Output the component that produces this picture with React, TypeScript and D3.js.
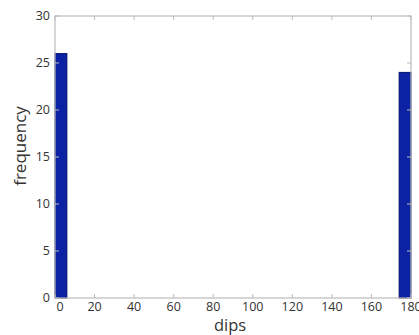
import React from "react";
import * as d3 from "d3";

const binStarts = [0, 174];
const binWidth = 6;
const counts = [26, 24];
const xTicks = [0, 20, 40, 60, 80, 100, 120, 140, 160, 180];
const yTicks = [0, 5, 10, 15, 20, 25, 30];

export default function App() {
  const W = 419, H = 335;
  const m = { left: 55, right: 8, top: 16, bottom: 37 };
  const x = d3.scaleLinear().domain([0, 180]).range([m.left, W - m.right]);
  const y = d3.scaleLinear().domain([0, 30]).range([H - m.bottom, m.top]);
  const font = "'Open Sans', 'DejaVu Sans', sans-serif";
  const axisColor = "#bbbbbb";
  const textColor = "#333";
  return (
    <svg width={W} height={H} style={{ position: "absolute", left: 0, top: 0, background: "#fff" }}>
      <rect x={0} y={0} width={W} height={H} fill="#fff" />
      {binStarts.map((s, i) => (
        <rect key={i} x={x(s)} y={y(counts[i])} width={x(s + binWidth) - x(s)} height={y(0) - y(counts[i])}
          fill="#0c22a4" stroke="#00106e" strokeWidth={1} />
      ))}
      <rect x={x(0)} y={y(30)} width={x(180) - x(0)} height={y(0) - y(30)} fill="none" stroke={axisColor} strokeWidth={1.2} />
      {xTicks.map((t) => (
        <g key={"x" + t}>
          <line x1={x(t)} x2={x(t)} y1={y(0)} y2={y(0) - 4} stroke={axisColor} />
          <line x1={x(t)} x2={x(t)} y1={y(30)} y2={y(30) + 4} stroke={axisColor} />
          <text x={x(t) + (t === 0 ? 5 : 0)} y={y(0) + 13} textAnchor="middle" fontSize={12.5} fontFamily={font} fill={textColor}>{t}</text>
        </g>
      ))}
      {yTicks.map((t) => (
        <g key={"y" + t}>
          <line x1={x(0)} x2={x(0) + 4} y1={y(t)} y2={y(t)} stroke={axisColor} />
          <line x1={x(180)} x2={x(180) - 4} y1={y(t)} y2={y(t)} stroke={axisColor} />
          <text x={x(0) - 5} y={y(t) + 4} textAnchor="end" fontSize={12.5} fontFamily={font} fill={textColor}>{t}</text>
        </g>
      ))}
      <text x={230} y={331} textAnchor="middle" fontSize={16.5} fontFamily={font} fill={textColor}>dips</text>
      <text transform={`translate(26,146) rotate(-90)`} textAnchor="middle" fontSize={17} fontFamily={font} fill={textColor}>frequency</text>
    </svg>
  );
}
